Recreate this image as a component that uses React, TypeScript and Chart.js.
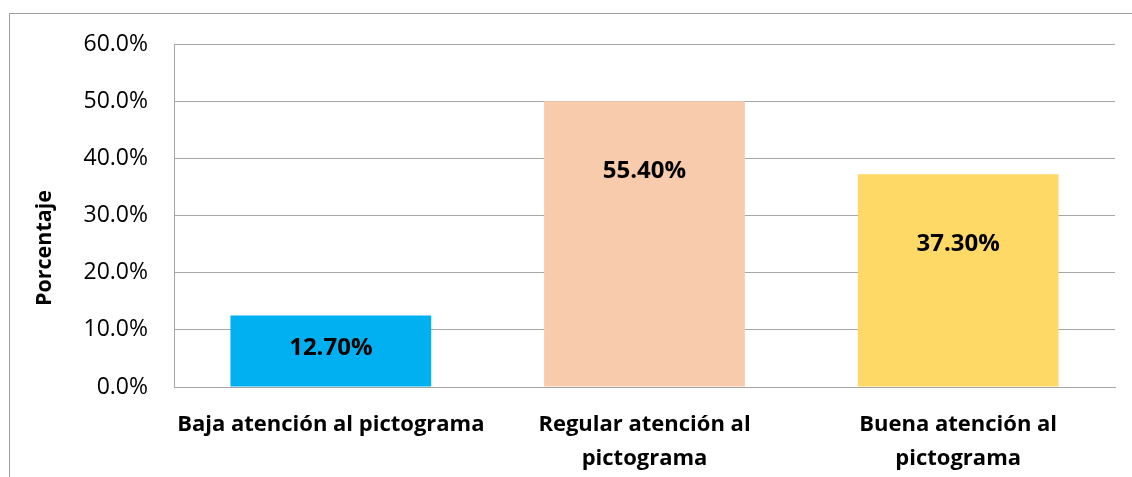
import React, { useEffect, useRef } from "react";
import { Chart, registerables } from "chart.js";

Chart.register(...registerables);

const categories: (string | string[])[] = [
  "Baja atención al pictograma",
  ["Regular atención al", "pictograma"],
  ["Buena atención al", "pictograma"],
];
const barValues = [12.5, 50.0, 37.2];
const valueLabels = ["12.70%", "55.40%", "37.30%"];
const barColors = ["#00B0F0", "#F8CBAD", "#FFD966"];
const yTicks = [0, 10, 20, 30, 40, 50, 60];
const yTitle = "Porcentaje";

const FONT = "'Open Sans', 'Noto Sans', sans-serif";
const GRID = "#a6a6a6";

export default function App() {
  const ref = useRef<HTMLCanvasElement | null>(null);

  useEffect(() => {
    if (!ref.current) return;

    const labelPlugin = {
      id: "valueLabels",
      afterDatasetsDraw(chart: any) {
        const ctx = chart.ctx;
        const meta = chart.getDatasetMeta(0);
        ctx.save();
        ctx.font = `bold 24px ${FONT}`;
        ctx.fillStyle = "#000";
        ctx.textAlign = "center";
        ctx.textBaseline = "middle";
        meta.data.forEach((el: any, i: number) => {
          const top = el.y;
          const base = el.base;
          const y = Math.min(top + 70, (top + base) / 2 - 3);
          ctx.fillText(valueLabels[i], el.x, y);
        });
        ctx.restore();
      },
    };

    const titlePlugin = {
      id: "yTitle",
      afterDraw(chart: any) {
        const ctx = chart.ctx;
        ctx.save();
        ctx.translate(45, 248);
        ctx.rotate(-Math.PI / 2);
        ctx.font = `bold 21.5px ${FONT}`;
        ctx.fillStyle = "#000";
        ctx.textAlign = "center";
        ctx.textBaseline = "middle";
        ctx.fillText(yTitle, 0, 0);
        ctx.restore();
      },
    };

    const chart = new Chart(ref.current, {
      type: "bar",
      data: {
        labels: categories,
        datasets: [
          {
            data: barValues,
            backgroundColor: barColors,
            borderWidth: 0,
            barPercentage: 0.64,
            categoryPercentage: 1,
          },
        ],
      },
      options: {
        animation: false,
        responsive: true,
        maintainAspectRatio: false,
        layout: { padding: { left: 0, right: 17, top: 44, bottom: 0 } },
        plugins: {
          legend: { display: false },
          tooltip: { enabled: false },
          title: { display: false },
        },
        scales: {
          x: {
            afterFit(scale: any) {
              scale.height = 90;
            },
            grid: { display: false, drawTicks: false },
            border: { display: true, color: GRID, width: 1 },
            ticks: {
              color: "#000",
              padding: 21,
              maxRotation: 0,
              autoSkip: false,
              font: { family: FONT, size: 22, weight: "bold", lineHeight: 1.55 },
            },
          },
          y: {
            min: 0,
            max: 60,
            afterFit(scale: any) {
              scale.width = 174;
            },
            afterBuildTicks(scale: any) {
              scale.ticks = yTicks.map((v) => ({ value: v }));
            },
            grid: { color: GRID, lineWidth: 1, drawTicks: false },
            border: { display: true, color: GRID, width: 1 },
            ticks: {
              color: "#000",
              padding: 26,
              font: { family: FONT, size: 23 },
              callback: (v: any) => Number(v).toFixed(1) + "%",
            },
          },
        },
      },
      plugins: [labelPlugin, titlePlugin],
    });

    return () => chart.destroy();
  }, []);

  return (
    <div
      style={{
        position: "fixed",
        left: 0,
        top: 0,
        width: 1132,
        height: 477,
        overflow: "hidden",
        background: "#fff",
      }}
    >
      <div
        style={{
          position: "absolute",
          left: 9,
          top: 13,
          width: 1300,
          height: 700,
          border: "1px solid #a0a0a0",
        }}
      />
      <div style={{ position: "absolute", left: 0, top: 0, width: 1132, height: 477 }}>
        <canvas ref={ref} />
      </div>
    </div>
  );
}
